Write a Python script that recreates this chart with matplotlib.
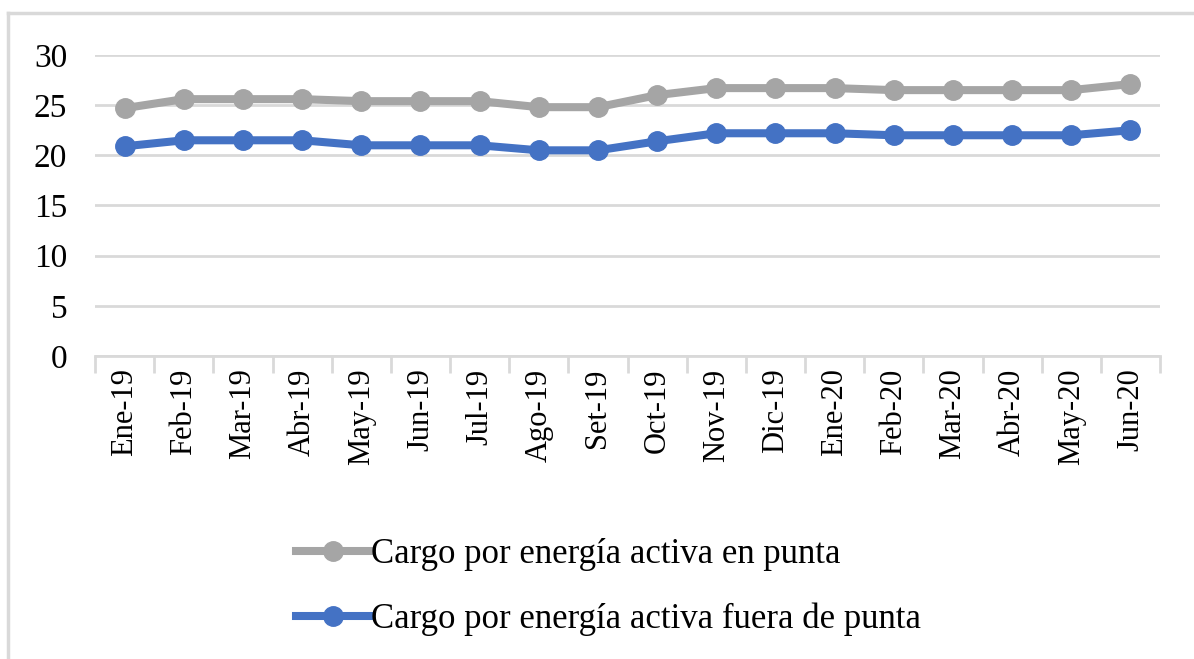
import matplotlib
matplotlib.use("Agg")
import matplotlib.pyplot as plt
from matplotlib.lines import Line2D
import numpy as np

categories = ["Ene-19", "Feb-19", "Mar-19", "Abr-19", "May-19", "Jun-19", "Jul-19",
              "Ago-19", "Set-19", "Oct-19", "Nov-19", "Dic-19", "Ene-20", "Feb-20",
              "Mar-20", "Abr-20", "May-20", "Jun-20"]
en_punta = [24.7, 25.6, 25.6, 25.6, 25.4, 25.4, 25.4, 24.8, 24.8, 26.0, 26.7, 26.7,
            26.7, 26.5, 26.5, 26.5, 26.5, 27.1]
fuera_punta = [20.9, 21.5, 21.5, 21.5, 21.0, 21.0, 21.0, 20.5, 20.5, 21.4, 22.2, 22.2,
               22.2, 22.0, 22.0, 22.0, 22.0, 22.5]
yticks = [0, 5, 10, 15, 20, 25, 30]
labels = ["Cargo por energía activa en punta", "Cargo por energía activa fuera de punta"]

plt.rcParams['font.family'] = ['Liberation Serif', 'DejaVu Serif']

W, H = 1194, 659
fig = plt.figure(figsize=(W / 100, H / 100), dpi=100)
ax = fig.add_axes([95 / W, 1 - 356 / H, (1160 - 95) / W, (356 - 55) / H])

x = np.arange(len(categories))
gray = "#A5A5A5"
blue = "#4472C4"
ax.plot(x, en_punta, color=gray, lw=5.8, marker="o", ms=14, label=labels[0], zorder=3)
ax.plot(x, fuera_punta, color=blue, lw=5.8, marker="o", ms=14, label=labels[1], zorder=3)

ax.set_xlim(-0.5, len(categories) - 0.5)
ax.set_ylim(0, 30)
ax.set_yticks(yticks)
ax.set_yticklabels([str(v) for v in yticks], fontsize=24)
ax.yaxis.grid(True, color="#D9D9D9", lw=2)
ax.set_axisbelow(True)
ax.tick_params(axis="y", length=0, pad=20)

ax.set_xticks(x)
ax.set_xticklabels(categories, rotation=90, fontsize=22)
ax.set_xticks(np.arange(-0.5, len(categories), 1), minor=True)
ax.tick_params(axis="x", which="major", length=0, pad=9)
ax.tick_params(axis="x", which="minor", length=12, width=2, color="#D9D9D9")

for s in ["top", "right", "left"]:
    ax.spines[s].set_visible(False)
ax.spines["bottom"].set_color("#D9D9D9")
ax.spines["bottom"].set_linewidth(2)

leg = fig.legend(loc="upper left", bbox_to_anchor=(296 / W, 1 - 538 / H), frameon=False,
                 fontsize=25, handlelength=2.15, handletextpad=0.0, labelspacing=0.9,
                 borderaxespad=0, borderpad=0)

# figure border (left and top visible)
fig.add_artist(Line2D([8 / W, 8 / W], [0, 1 - 13 / H], color="#D9D9D9", lw=2.5,
                      transform=fig.transFigure))
fig.add_artist(Line2D([8 / W, 1], [1 - 13 / H, 1 - 13 / H], color="#D9D9D9", lw=2.5,
                      transform=fig.transFigure))

fig.savefig("out.png", dpi=100)
